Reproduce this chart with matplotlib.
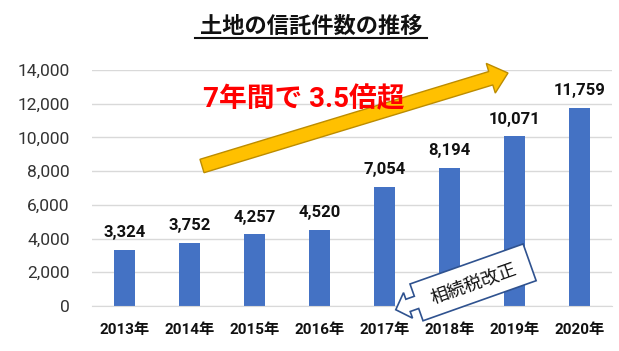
import numpy as np
import matplotlib.pyplot as plt
from matplotlib.patches import Polygon

plt.rcParams['font.family'] = ['Roboto', 'Noto Sans CJK JP', 'DejaVu Sans']

years = ["2013年", "2014年", "2015年", "2016年", "2017年", "2018年", "2019年", "2020年"]
counts = [3324, 3752, 4257, 4520, 7054, 8194, 10071, 11759]
title = "土地の信託件数の推移"
note = "7年間で 3.5倍超"
callout = "相続税改正"

W, H = 619, 351
fig = plt.figure(figsize=(W / 100, H / 100), dpi=100)
ax = fig.add_axes([92 / W, 1 - 306 / H, 520 / W, 236 / H])

x = np.arange(len(years))
ax.bar(x, counts, width=0.31, color="#4472C4", zorder=2)
for xi, v in zip(x, counts):
    ax.annotate(f"{v:,}", (xi, v), xytext=(0, 7), textcoords="offset points",
                ha="center", va="bottom", fontsize=12, fontweight="bold", color="#111111")

ax.set_xlim(-0.5, len(years) - 0.5)
ax.set_ylim(0, 14000)
ax.set_yticks(np.arange(0, 14001, 2000))
ax.set_yticklabels([f"{t:,}" for t in range(0, 14001, 2000)], fontsize=12.5, color="#333333")
ax.set_xticks(x)
ax.set_xticklabels(years, fontsize=11, fontweight="bold", color="#111111")
ax.tick_params(axis="y", length=0, pad=16)
ax.tick_params(axis="x", length=0, pad=12)
ax.grid(axis="y", color="#D9D9D9", linewidth=1, zorder=0)
for s in ["top", "right", "left"]:
    ax.spines[s].set_visible(False)
ax.spines["bottom"].set_color("#D9D9D9")

# title with underline
fig.text(311 / W, 1 - 27 / H, title, ha="center", va="center", fontsize=16,
         fontweight="bold", color="#111111")
fig.add_artist(plt.Line2D([195 / W, 427 / W], [1 - 38 / H, 1 - 38 / H],
                          color="#111111", linewidth=1.5))


def to_fig(pts):
    return [(px / W, 1 - py / H) for px, py in pts]


def block_arrow(tail, tip, shaft_w, head_w, head_l):
    tail = np.array(tail, float)
    tip = np.array(tip, float)
    d = tip - tail
    L = np.hypot(*d)
    u = d / L
    n = np.array([-u[1], u[0]])
    base = tip - u * head_l
    pts = [tail + n * shaft_w / 2, base + n * shaft_w / 2, base + n * head_w / 2, tip,
           base - n * head_w / 2, base - n * shaft_w / 2, tail - n * shaft_w / 2]
    return to_fig(pts)


# big yellow arrow
fig.add_artist(Polygon(block_arrow((202, 166), (508, 73), 14, 31, 18), closed=True,
                       transform=fig.transFigure, facecolor="#FFC000",
                       edgecolor="#BC8C00", linewidth=1, zorder=3))
fig.text(304 / W, 1 - 100 / H, note, ha="center", va="center", fontsize=20,
         fontweight="bold", color="#FF0000", zorder=4)

# callout box with left arrow
th = np.deg2rad(19.5)
u = np.array([np.cos(th), -np.sin(th)])
nv = np.array([np.sin(th), np.cos(th)])
tl = np.array([410.0, 284.0])
local = [(0, 0), (120, 0), (120, 39), (0, 39), (0, 26), (-9, 26), (-9, 33),
         (-22, 19.5), (-9, 6), (-9, 13), (0, 13)]
pts = [tl + a * u + b * nv for a, b in local]
fig.add_artist(Polygon(to_fig(pts), closed=True, transform=fig.transFigure,
                       facecolor="white", edgecolor="#2F528F", linewidth=1.2, zorder=3))
c = tl + 60 * u + 21 * nv
fig.text(c[0] / W, 1 - c[1] / H, callout, ha="center", va="center", fontsize=13,
         rotation=19.5, rotation_mode="anchor", color="#111111", zorder=4)

fig.savefig("out.png", dpi=100)
